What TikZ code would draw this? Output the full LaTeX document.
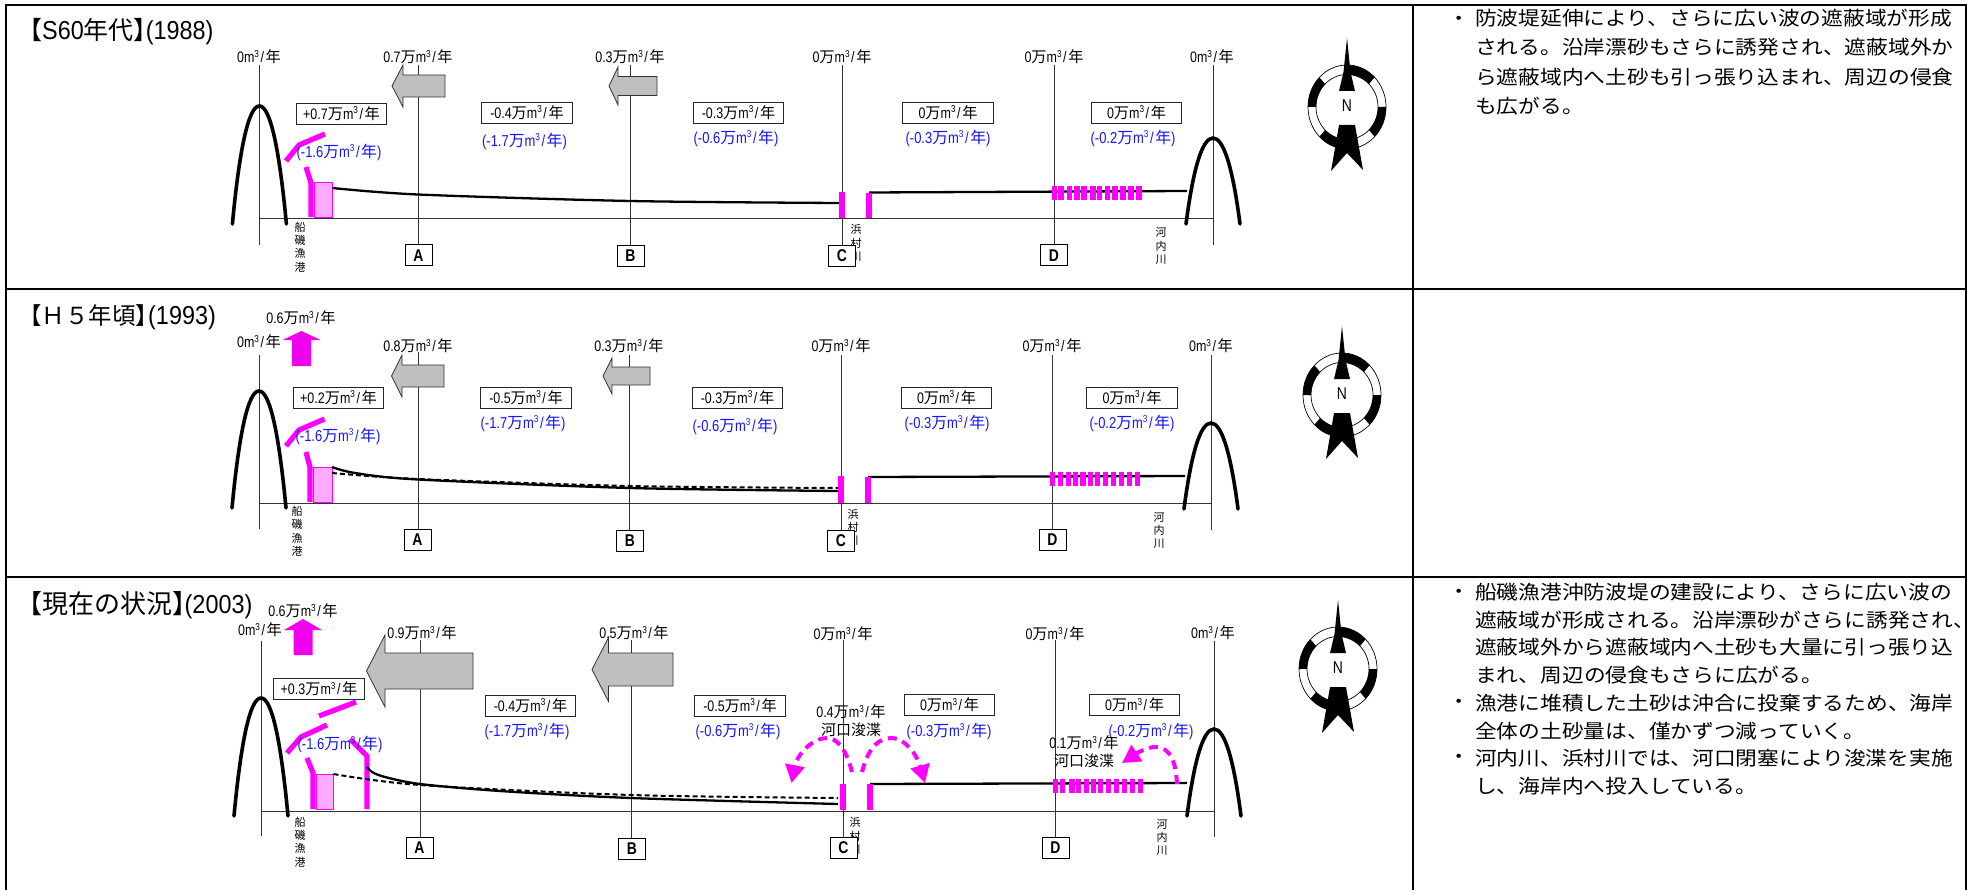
\documentclass[tikz,border=0pt]{standalone}
\usepackage{fontspec}
\usetikzlibrary{arrows.meta}
\newfontfamily\latf[FakeStretch=0.82]{Liberation Sans}
\newfontfamily\latt[FakeStretch=0.9]{Liberation Sans}
\newfontfamily\cjkf{Noto Sans CJK JP}
\newfontfamily\bodyf[FakeStretch=1.12]{Noto Sans CJK JP}
\definecolor{mag}{HTML}{FF00FF}
\definecolor{magd}{HTML}{F000EE}
\definecolor{pinkf}{HTML}{FFAAFF}
\definecolor{grayf}{HTML}{BFBFBF}
\definecolor{blu}{HTML}{1414FF}
\newcommand\mcube{{\latf m\raisebox{5.5pt}{\fontsize{10}{10}\selectfont 3}\kern1.6pt/\kern1.6pt}}
\newcommand\vol[1]{{\latf #1\cjkf 万\mcube\cjkf 年}}
\newcommand\volz{{\latf 0\mcube\cjkf 年}}
\newcommand\blv[1]{{\latf (#1\cjkf 万\mcube\cjkf 年\latf )}}
\newcommand\ttn[1]{{\latt\fontsize{26}{27}\selectfont #1}}
\tikzset{
  lab/.style={inner sep=0pt,font=\fontsize{15.2}{16}\selectfont},
  valbox/.style={lab,draw=black!85,line width=0.9pt,fill=white,minimum width=90.5pt,minimum height=21pt},
  bluelab/.style={inner sep=0pt,font=\fontsize{15.8}{16}\selectfont,text=blu},
  ttl/.style={inner sep=0pt,anchor=west,font=\fontsize{25}{27}\selectfont},
  vert/.style={inner sep=0pt,align=center,font=\fontsize{11}{13.4}\selectfont\cjkf},
  stbox/.style={inner sep=0pt,draw=black,line width=1pt,fill=white,minimum width=27pt,minimum height=21pt,font=\fontsize{17}{17}\selectfont\latf\bfseries},
  vl/.style={black!80,line width=0.9pt},
  land/.style={black,line width=3.6pt,line cap=round},
  shore/.style={black,line width=2.3pt},
  shoredash/.style={black,line width=2pt,dash pattern=on 5pt off 3pt},
  wall/.style={mag,line width=5.2pt},
  tooth/.style={mag,line width=5.2pt},
  dred/.style={mag,line width=4pt,dash pattern=on 9pt off 6pt,-{Triangle[length=18pt,width=19pt]}},
  bodytext/.style={inner sep=0pt,align=left,anchor=north west},
  bullet/.style={inner sep=0pt,font=\fontsize{19}{20}\selectfont\bodyf},
  frame/.style={black,line width=2.4pt},
}
\newcommand\stn[5]{\coordinate (t#1) at (#2,#3);\node[stbox] (b#1) at (#4,#5) {#1};\draw[vl] (t#1) -- (t#1 |- b#1.north);}
\newcommand\head[3]{\draw[land] (#1-27,#3) .. controls (#1-20,{#2+0.37*(#3-#2)}) and (#1-11,#2) .. (#1,#2) .. controls (#1+11,#2) and (#1+20,{#2+0.37*(#3-#2)}) .. (#1+27,#3);}
\newcommand\garrow[6]{\draw[fill=grayf,draw=black!80,line width=0.8pt] (#1,#2) -- (#3,#2-#4) -- (#3,#2-#5) -- (#6,#2-#5) -- (#6,#2+#5) -- (#3,#2+#5) -- (#3,#2+#4) -- cycle;}
\newcommand\marrow[4]{\fill[magd] (#1,#2) -- (#1+19,#3) -- (#1+9.5,#3) -- (#1+9.5,#4) -- (#1-9.5,#4) -- (#1-9.5,#3) -- (#1-19,#3) -- cycle;}
\newcommand\compass[3]{\begin{scope}[shift={(#2,#3)}]
  \draw[black,line width=0.7pt] (0,0) ellipse[x radius=39,y radius=42];
  \draw[black,line width=0.7pt] (0,0) ellipse[x radius=31,y radius=32.5];
  \foreach \a in {-90,0,90,180}{\fill[black] (\a:39 and 42) arc[start angle=\a,end angle=\a+45,x radius=39,y radius=42] -- ({\a+45}:31 and 32.5) arc[start angle=\a+45,end angle=\a,x radius=31,y radius=32.5] -- cycle;}
  \fill[black] (0,-69) -- (3.5,-35) -- (8,-16) -- (-8,-16) -- (-3.5,-35) -- cycle;
  \fill[black] (-8,18) -- (8,18) -- (16,63) -- (0,46) -- (-16,64) -- cycle;
  \node[inner sep=0pt,font=\fontsize{17}{18}\selectfont\latf] (#1) at (0,-1) {N};
\end{scope}}
\begin{document}
\begin{tikzpicture}[x=1pt,y=-1pt]
\path[use as bounding box,fill=white] (0,0) rectangle (1977,890);

% ---------- panel 1
\begin{scope}[name prefix=p1-]
\node[lab] (l0) at (259,57) {\volz};
\node[lab] (lA) at (418,57) {\vol{0.7}};
\node[lab] (lB) at (630,57) {\vol{0.3}};
\node[lab] (lC) at (842,57) {\vol{0}};
\node[lab] (lD) at (1054,57) {\vol{0}};
\node[lab] (lE) at (1212,57) {\volz};
\coordinate (a0) at (259.4,65); \coordinate (z0) at (259.4,245);
\draw[vl] (a0) -- (z0);
\coordinate (aE) at (1213,65); \coordinate (zE) at (1213,245);
\draw[vl] (aE) -- (zE);
\coordinate (s0) at (259.4,218); \coordinate (s1) at (1213,218);
\draw[vl] (s0) -- (s1);
\node[vert] (vf) at (300,247) {船\\磯\\漁\\港};
\node[vert] (vh) at (856,243) {浜\\村\\川};
\node[vert] (vk) at (1161,246) {河\\内\\川};
\stn{A}{418}{65}{418.5}{255.5}
\stn{B}{630}{65}{630.5}{256}
\stn{C}{842}{65}{842}{256}
\stn{D}{1054}{65}{1054}{255.5}
\garrow{392}{86}{403}{21}{11}{445}
\garrow{609}{86}{618}{19}{9.5}{657}
\head{259.4}{106}{224}
\head{1213}{138}{224}
\draw[wall] (286,161) -- (299,145) -- (325,134);
\draw[wall] (306,167) -- (311,183) -- (311,217);
\draw[draw=mag,fill=pinkf,line width=0.8pt] (314,182) rectangle (332.5,217);
\draw[shore] plot[smooth] coordinates {(332.5,188) (418,194.5) (630,201) (839,203)};
\draw[shore] (869,192.5) -- (1187,191);
\draw[wall] (842,192) -- (842,218);
\draw[wall] (869,193) -- (869,218);
\foreach \x [count=\i] in {1054.5,1061,1069.6,1077,1084,1093,1099.5,1107.6,1115,1123,1131,1139}{\draw[tooth] (\x,186) -- (\x,200);}
\node[valbox] (d1) at (341.5,113.5) {{\latf +0.7\cjkf 万\mcube\cjkf 年}};
\node[valbox] (d2) at (527,112.5) {\vol{-0.4}};
\node[valbox] (d3) at (738.5,112.5) {\vol{-0.3}};
\node[valbox] (d4) at (948,112.5) {\vol{0}};
\node[valbox] (d5) at (1136.5,112.5) {\vol{0}};
\node[bluelab] (e1) at (339,152) {\blv{-1.6}};
\node[bluelab] (e2) at (524.5,141) {\blv{-1.7}};
\node[bluelab] (e3) at (736,138) {\blv{-0.6}};
\node[bluelab] (e4) at (948,138) {\blv{-0.3}};
\node[bluelab] (e5) at (1133,138) {\blv{-0.2}};
\node[ttl] (t) at (17,32) {\cjkf 【\ttn{S60}年代】\kern-13pt\ttn{(1988)}};
\compass{N}{1347}{107}
\end{scope}

% ---------- panel 2
\begin{scope}[name prefix=p2-]
\node[lab] (u) at (301,318) {\vol{0.6}};
\node[lab] (l0) at (259,342) {\volz};
\node[lab] (lA) at (418,346) {\vol{0.8}};
\node[lab] (lB) at (629,346) {\vol{0.3}};
\node[lab] (lC) at (841,346) {\vol{0}};
\node[lab] (lD) at (1052,346) {\vol{0}};
\node[lab] (lE) at (1211,346) {\volz};
\coordinate (a0) at (259,355); \coordinate (z0) at (259,529);
\draw[vl] (a0) -- (z0);
\coordinate (aE) at (1211,355); \coordinate (zE) at (1211,530);
\draw[vl] (aE) -- (zE);
\coordinate (s0) at (259,503); \coordinate (s1) at (1211,503);
\draw[vl] (s0) -- (s1);
\node[vert] (vf) at (297,531.5) {船\\磯\\漁\\港};
\node[vert] (vh) at (853,527.5) {浜\\村\\川};
\node[vert] (vk) at (1159,530.5) {河\\内\\川};
\stn{A}{418}{352}{417.5}{540}
\stn{B}{629.5}{355}{630}{541}
\stn{C}{841}{355}{841}{541}
\stn{D}{1052}{355}{1052.5}{539.5}
\marrow{301.5}{331}{340}{366}
\garrow{391.5}{376}{402}{21}{11}{444}
\garrow{603}{376}{612}{18}{9}{650}
\head{259}{391}{508}
\head{1211}{423}{509}
\draw[wall] (286,446) -- (299,430) -- (324.5,419);
\draw[wall] (306,452) -- (310,467) -- (310,502);
\draw[draw=mag,fill=pinkf,line width=0.8pt] (313.5,467) rectangle (332,502);
\draw[shore] plot[smooth] coordinates {(332,467) (355,473) (418,479.5) (630,488) (838,491)};
\draw[shoredash] plot[smooth] coordinates {(332,473) (418,479) (630,486) (838,488)};
\draw[shore] (868,477) -- (1185,476);
\draw[wall] (841,476) -- (841,503);
\draw[wall] (868,477) -- (868,503);
\foreach \x [count=\i] in {1052.7,1060.7,1068.8,1075.4,1083,1090.2,1097.8,1105.8,1113.4,1121.4,1129.5,1137.5}{\draw[tooth] (\x,472) -- (\x,486);}
\node[valbox] (d1) at (338.5,397.5) {{\latf +0.2\cjkf 万\mcube\cjkf 年}};
\node[valbox] (d2) at (526,397.5) {\vol{-0.5}};
\node[valbox] (d3) at (737.5,397.5) {\vol{-0.3}};
\node[valbox] (d4) at (946.5,397.5) {\vol{0}};
\node[valbox] (d5) at (1132,397.5) {\vol{0}};
\node[bluelab] (e1) at (338,436) {\blv{-1.6}};
\node[bluelab] (e2) at (523,423) {\blv{-1.7}};
\node[bluelab] (e3) at (735,426) {\blv{-0.6}};
\node[bluelab] (e4) at (947,423) {\blv{-0.3}};
\node[bluelab] (e5) at (1132,423) {\blv{-0.2}};
\node[ttl] (t) at (18,317) {\fontsize{23.5}{25}\selectfont\cjkf 【Ｈ５年頃】\kern-11pt\ttn{(1993)}};
\compass{N}{1342}{395}
\end{scope}

% ---------- panel 3
\begin{scope}[name prefix=p3-]
\node[lab] (u) at (303,611) {\vol{0.6}};
\node[lab] (l0) at (260,630) {\volz};
\coordinate (a0) at (261,641); \coordinate (z0) at (261,836);
\draw[vl] (a0) -- (z0);
\coordinate (aE) at (1214,641); \coordinate (zE) at (1214,837);
\draw[vl] (aE) -- (zE);
\coordinate (s0) at (261,811); \coordinate (s1) at (1214,811);
\draw[vl] (s0) -- (s1);
\node[vert] (vf) at (300,842) {船\\磯\\漁\\港};
\node[vert] (vh) at (855,836) {浜\\村\\川};
\node[vert] (vk) at (1162,837.5) {河\\内\\川};
\stn{A}{420}{640}{419.5}{847.5}
\stn{B}{631}{640}{632}{848.5}
\stn{C}{843}{640}{843.5}{848}
\stn{D}{1055}{640}{1055.5}{847.5}
\marrow{303}{619}{630}{655}
\garrow{366.5}{671}{385}{36}{18}{473}
\garrow{592}{669.5}{608.5}{32}{16.5}{673}
\node[lab] (lA) at (422,633) {\vol{0.9}};
\node[lab] (lB) at (634,633) {\vol{0.5}};
\node[lab] (lC) at (843,634) {\vol{0}};
\node[lab] (lD) at (1055,634) {\vol{0}};
\node[lab] (lE) at (1213,633) {\volz};
\head{261}{698}{816}
\head{1214}{729}{816}
\draw[wall] (319,716) -- (356,702);
\draw[wall] (287,753) -- (301,737) -- (327,725);
\draw[wall] (307,758) -- (313,773) -- (313,809);
\draw[wall] (350,739) -- (367,756) -- (367,809);
\draw[draw=mag,fill=pinkf,line width=0.8pt] (316,774) rectangle (333.5,809);
\draw[shoredash] plot[smooth] coordinates {(333.5,774) (420,785) (631,795) (838,798)};
\draw[shore] plot[smooth] coordinates {(367,767) (372,772) (385,777) (420,784) (500,791) (631,798) (838,804)};
\draw[shore] (870,784) -- (1187,783);
\draw[wall] (843,784) -- (843,810);
\draw[wall,line width=6pt] (870,784) -- (870,810);
\foreach \x [count=\i] in {1055.8,1062.5,1071.9,1078.6,1086.2,1093.3,1100.4,1108.5,1116.5,1124.6,1132.1,1140.2}{\draw[tooth] (\x,779) -- (\x,793);}
\node[valbox] (d1) at (319,689) {{\latf +0.3\cjkf 万\mcube\cjkf 年}};
\node[valbox] (d2) at (530.5,705.5) {\vol{-0.4}};
\node[valbox] (d3) at (740,705.5) {\vol{-0.5}};
\node[valbox] (d4) at (949.5,705) {\vol{0}};
\node[valbox] (d5) at (1134.5,705) {\vol{0}};
\node[bluelab] (e1) at (340,744) {\blv{-1.6}};
\node[bluelab] (e2) at (527,731) {\blv{-1.7}};
\node[bluelab] (e3) at (738,731) {\blv{-0.6}};
\node[bluelab] (e4) at (949,731) {\blv{-0.3}};
\node[bluelab] (e5) at (1151,731) {\blv{-0.2}};
\node[lab] (r1) at (851,712) {\vol{0.4}};
\node[lab,font=\fontsize{15}{16}\selectfont\cjkf] (r2) at (851,730) {河口浚渫};
\node[lab] (r3) at (1084,743) {\vol{0.1}};
\node[lab,font=\fontsize{15}{16}\selectfont\cjkf] (r4) at (1084,761) {河口浚渫};
\coordinate (da) at (852,772); \coordinate (db) at (791.5,783);
\coordinate (dc) at (862,772); \coordinate (dd) at (925,783);
\coordinate (de) at (1177,784); \coordinate (df) at (1122,763);
\draw[dred] (da) .. controls (845,745) and (835,738) .. (827,738) .. controls (812,738) and (797,755) .. (db);
\draw[dred] (dc) .. controls (869,745) and (880,738) .. (892,738) .. controls (905,738) and (917,755) .. (dd);
\draw[dred] (de) .. controls (1176,765) and (1172,747) .. (1155,747) .. controls (1148,747) and (1137,753) .. (df);
\node[ttl] (t) at (16.5,605) {\fontsize{26}{27}\selectfont\cjkf 【現在の状況】\kern-14pt\ttn{(2003)}};
\compass{N}{1338}{669}
\end{scope}

% ---------- frame
\coordinate (fa) at (1966,5); \coordinate (fb) at (6,5);
\coordinate (fc) at (6,890); \coordinate (fd) at (1413,5); \coordinate (fe) at (1413,890);
\coordinate (ff) at (1966,890);
\coordinate (g1) at (6,289); \coordinate (g2) at (1966,289);
\coordinate (h1) at (6,577); \coordinate (h2) at (1966,577);
\draw[frame] (fc) -- (fb) -- (fa) -- (ff);
\draw[frame] (fd) -- (fe);
\draw[frame] (g1) -- (g2);
\draw[frame] (h1) -- (h2);

% ---------- right column
\node[bodytext,font=\fontsize{19.4}{29.3}\selectfont\bodyf] (x1) at (1475,9) {防波堤延伸により、さらに広い波の遮蔽域が形成\\される。沿岸漂砂もさらに誘発され、遮蔽域外か\\ら遮蔽域内へ土砂も引っ張り込まれ、周辺の侵食\\も広がる。};
\node[bullet] (bu1) at (1459,21) {・};
\node[bodytext,font=\fontsize{19.4}{27.7}\selectfont\bodyf] (x2) at (1475,583) {船磯漁港沖防波堤の建設により、さらに広い波の\\遮蔽域が形成される。沿岸漂砂がさらに誘発され、\\遮蔽域外から遮蔽域内へ土砂も大量に引っ張り込\\まれ、周辺の侵食もさらに広がる。\\漁港に堆積した土砂は沖合に投棄するため、海岸\\全体の土砂量は、僅かずつ減っていく。\\河内川、浜村川では、河口閉塞により浚渫を実施\\し、海岸内へ投入している。};
\node[bullet] (bu2) at (1459,594) {・};
\node[bullet] (bu3) at (1459,704) {・};
\node[bullet] (bu4) at (1459,759) {・};
\end{tikzpicture}
\end{document}
